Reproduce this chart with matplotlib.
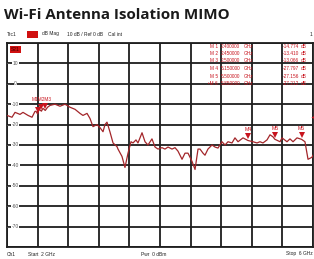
import matplotlib
matplotlib.use("Agg")
import matplotlib.pyplot as plt
from matplotlib.patches import Rectangle

# ---- data ----
freq_ghz = [2.000, 2.065, 2.105, 2.170, 2.209, 2.275, 2.327, 2.366, 2.38, 2.40, 2.42,
            2.45, 2.47, 2.50, 2.53, 2.562, 2.627, 2.693, 2.758, 2.824, 2.889, 2.954,
            2.993, 3.046, 3.085, 3.124, 3.176, 3.216, 3.255, 3.281, 3.307, 3.346,
            3.386, 3.438, 3.451, 3.503, 3.542, 3.582, 3.621, 3.647, 3.686, 3.712,
            3.765, 3.804, 3.843, 3.895, 3.935, 3.974, 4.026, 4.065, 4.105, 4.157,
            4.196, 4.235, 4.288, 4.327, 4.366, 4.418, 4.458, 4.497, 4.523, 4.562,
            4.588, 4.627, 4.680, 4.719, 4.758, 4.810, 4.850, 4.889, 4.941, 4.980,
            5.020, 5.085, 5.150, 5.216, 5.268, 5.307, 5.346, 5.399, 5.438, 5.477,
            5.500, 5.569, 5.595, 5.660, 5.699, 5.739, 5.791, 5.850, 5.895, 5.935,
            5.987, 6.000]
s21_db = [-15.5, -16.4, -14.0, -15.0, -14.0, -15.5, -16.4, -13.5, -13.5, -14.774, -12.5,
          -13.41, -12.0, -13.066, -11.5, -10.6, -10.0, -11.0, -10.0, -11.5, -12.5, -14.5,
          -15.5, -14.5, -17.0, -21.0, -20.0, -21.5, -23.5, -20.0, -18.8, -23.6,
          -29.0, -30.8, -32.0, -35.6, -41.0, -34.0, -28.4, -29.0, -27.5, -29.0,
          -24.0, -28.4, -30.0, -27.0, -31.0, -32.0, -31.3, -32.0, -31.0, -32.0,
          -31.3, -33.0, -37.0, -34.0, -34.0, -38.0, -42.0, -32.0, -32.0, -34.0,
          -35.0, -32.0, -30.0, -31.0, -31.5, -28.4, -30.0, -28.4, -29.0, -26.5,
          -28.4, -26.5, -27.797, -28.4, -29.0, -28.4, -29.0, -27.5, -25.0, -26.0,
          -27.156, -28.4, -26.5, -28.4, -27.0, -28.4, -26.5, -27.212, -28.4, -37.0,
          -36.0, -35.0]

marker_names = ["M1", "M2", "M3", "M4", "M5", "M6"]
marker_freq = [2.40, 2.45, 2.50, 5.15, 5.50, 5.85]
marker_db = [-14.774, -13.410, -13.066, -27.797, -27.156, -27.212]

y_ticks = [10, 0, -10, -20, -30, -40, -50, -60, -70]

# ---- figure ----
W, H = 314, 259
fig = plt.figure(figsize=(W / 100, H / 100), dpi=100)
fig.patch.set_facecolor("white")
FONT = "Liberation Sans"

ax = fig.add_axes([7 / W, 1 - 247 / H, 306 / W, 204 / H])
ax.set_xlim(2, 6)
ax.set_ylim(-80, 20)
ax.set_xticks([2 + 0.4 * i for i in range(11)])
ax.set_yticks(list(range(-80, 21, 10)))
ax.grid(True, color="#1e1e1e", linewidth=1.3)
ax.tick_params(length=0, labelbottom=False, labelleft=False)
for s in ax.spines.values():
    s.set_color("#1e1e1e")
    s.set_linewidth(1.3)
ax.set_axisbelow(True)

trace_col = "#a3262a"
red = "#c8141e"
ax.plot(freq_ghz, s21_db, color=trace_col, linewidth=0.9, zorder=3)

# y labels inside plot
for v in y_ticks:
    ax.text(2.11, v, str(v), fontsize=3.6, color="#555555", ha="center", va="center",
            family=FONT, zorder=4,
            bbox=dict(facecolor="white", edgecolor="none", pad=0.3))
    ax.plot([2.0, 2.03], [v, v], color="#555555", linewidth=0.6, zorder=4)

# S21 box
ax.text(2.11, 17.0, "S21", fontsize=3.5, color="#3a0000", ha="center", va="center",
        family=FONT, zorder=5,
        bbox=dict(facecolor="#d01010", edgecolor="none", pad=0.8))

# markers on the trace
for name, f, d in zip(marker_names, marker_freq, marker_db):
    ax.plot(f, d + 2.0, marker="v", color=red, markersize=4.2, zorder=5,
            markeredgewidth=0)
ax.text(2.45, -7.8, "M1M2M3", fontsize=3.4, color=red, ha="center", va="center",
        family=FONT, zorder=5)
for name, f, d in zip(marker_names[3:], marker_freq[3:], marker_db[3:]):
    ax.text(f, d + 5.2, name, fontsize=3.8, color=red, ha="center", va="center",
            family=FONT, zorder=5)

# marker table
TF = 3.4
row_y = [46, 53.5, 61, 68.5, 76, 83.5]
for i, (name, f, d) in enumerate(zip(marker_names, marker_freq, marker_db)):
    y = 1 - row_y[i] / H
    lab = ("\u2022" if name == "M6" else "") + name[0] + " " + name[1]
    fig.text(218 / W, y, lab, fontsize=TF, color=red, ha="right", va="center", family=FONT)
    fig.text(221 / W, y, f"{f:.6f}", fontsize=TF, color=red, ha="left", va="center", family=FONT)
    fig.text(244 / W, y, "GHz", fontsize=TF, color=red, ha="left", va="center", family=FONT)
    fig.text(299 / W, y, f"{d:.3f}", fontsize=TF, color=red, ha="right", va="center", family=FONT)
    fig.text(301 / W, y, "dB", fontsize=TF, color=red, ha="left", va="center", family=FONT)
ax.plot(6.0, -16.5, marker="<", color=red, markersize=3, zorder=6, clip_on=False,
        markeredgewidth=0)

# title
fig.text(4 / W, 1 - 15 / H, "Wi-Fi Antenna Isolation MIMO", fontsize=10.9,
         fontweight="bold", family="Open Sans", color="#1a1a1a", ha="left", va="center")

# header line
HF = 3.5
hy = 1 - 34 / H
fig.text(7 / W, hy, "Trc1", fontsize=HF, family=FONT, color="#222222", ha="left", va="center")
fig.patches.append(Rectangle((27 / W, 1 - 37.5 / H), 11 / W, 7 / H, transform=fig.transFigure,
                             facecolor="#d01010", edgecolor="none"))
fig.text(42 / W, hy, "dB Mag", fontsize=HF, family=FONT, color="#222222", ha="left", va="center")
fig.text(67 / W, hy, "10 dB / Ref 0 dB", fontsize=HF, family=FONT, color="#222222", ha="left", va="center")
fig.text(108 / W, hy, "Cal int", fontsize=HF, family=FONT, color="#222222", ha="left", va="center")
fig.text(312 / W, hy, "1", fontsize=HF, family=FONT, color="#222222", ha="right", va="center")

# footer
fy = 1 - 254 / H
fig.text(7 / W, fy, "Ch1", fontsize=HF, family=FONT, color="#222222", ha="left", va="center")
fig.text(28 / W, fy, "Start  2 GHz", fontsize=HF, family=FONT, color="#222222", ha="left", va="center")
fig.text(141 / W, fy, "Pwr  0 dBm", fontsize=HF, family=FONT, color="#222222", ha="left", va="center")
fig.text(313 / W, fy, "Stop  6 GHz", fontsize=HF, family=FONT, color="#222222", ha="right", va="center")

fig.savefig("out.png", dpi=100, facecolor="white")
